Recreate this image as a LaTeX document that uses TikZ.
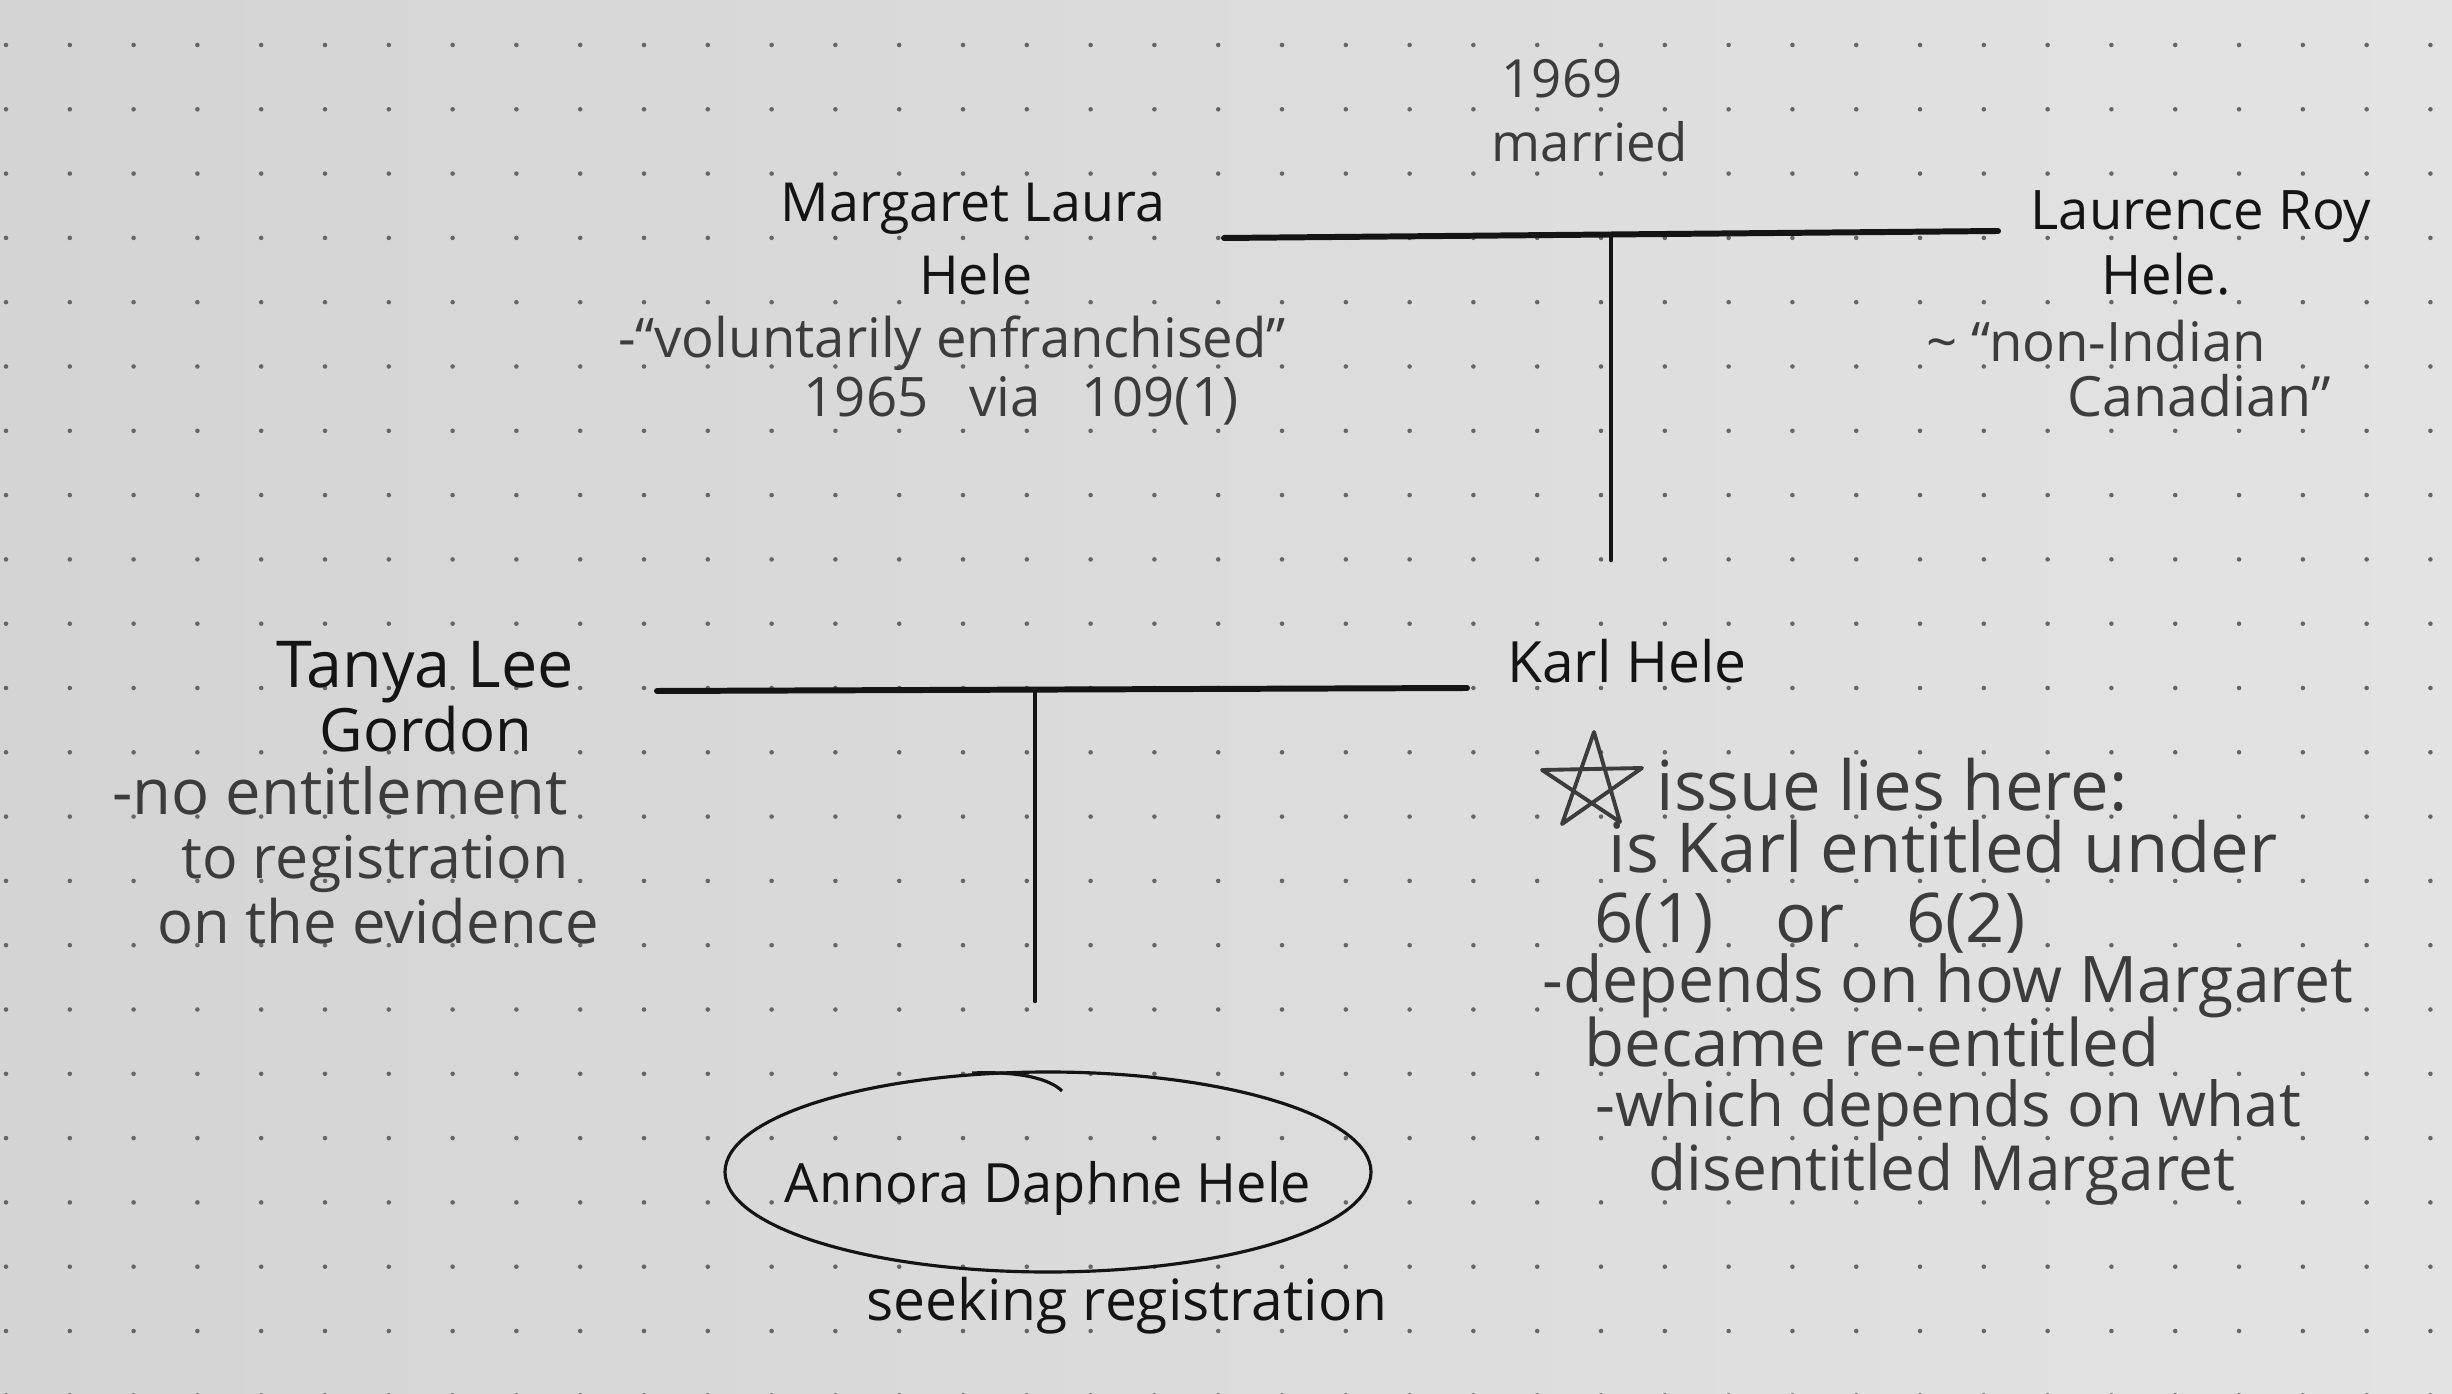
\documentclass[tikz,border=0pt]{standalone}
\usepackage{fontspec}
\setmainfont{Open Sans}
\usetikzlibrary{calc}
\definecolor{bgl}{HTML}{D4D4D4}
\definecolor{bgr}{HTML}{E3E3E3}
\definecolor{dotc}{HTML}{666666}
\definecolor{inkc}{HTML}{141414}
\definecolor{pencilc}{HTML}{3C3C3C}
\begin{document}
\begin{tikzpicture}[x=0.1mm,y=-0.1mm,
  nm/.style={text=inkc, inner sep=0pt, anchor=base, font=\fontsize{#1}{20}\selectfont},
  pn/.style={text=pencilc, inner sep=0pt, anchor=base, font=\fontsize{#1}{20}\selectfont},
  famline/.style={draw=inkc, line width=1.7pt, line cap=round},
  descline/.style={draw=inkc, line width=1.3pt, line cap=round},
  ring/.style={draw=inkc, line width=0.9pt},
  starline/.style={draw=pencilc, line width=1.1pt, line join=round}
]
% paper
\shade[left color=bgl, right color=bgr] (0,0) rectangle (2452,1394);
\useasboundingbox (0,0) rectangle (2452,1394);
\foreach \i in {0,...,38} {
  \foreach \j in {0,...,21} {
    \fill[dotc] ({6+63.8*\i},{45+64.3*\j}) circle (0.65pt);
  }
}

% marriage of Margaret and Laurence
\node[pn=15] (yr) at (1562,98) {1969};
\node[pn=15] (mar) at (1590,162) {married};
\node[nm=15.3] (margaret) at (973,222) {Margaret Laura};
\node[nm=15.3] (margaretB) at (976,295) {Hele};
\node[pn=15.5] (mnoteA) at (952,358) {-“voluntarily enfranchised”};
\node[pn=15.5] (mnoteB) at (1021,417) {1965\hspace{0.75em}via\hspace{0.75em}109(1)};
\node[nm=15.5] (laurence) at (2201,230) {Laurence Roy};
\node[nm=15.5] (laurenceB) at (2166,295) {Hele.};
\node[pn=15.5] (lnoteA) at (2096,362) {\textasciitilde\ “non-Indian};
\node[pn=15.8] (lnoteB) at (2199,417) {Canadian”};

\coordinate (mlL) at (1224,238);
\coordinate (mlR) at (1998,231);
\coordinate (mlM) at (1611,236);
\coordinate (mlB) at (1611,560);
\draw[famline] (mlL) -- (mlR);
\draw[descline] (mlM) -- (mlB);

% Karl and Tanya
\node[nm=18.4] (tanya) at (425,688) {Tanya Lee};
\node[nm=17] (tanyaB) at (426,752) {Gordon};
\node[pn=18] (tnoteA) at (340,815) {-no entitlement};
\node[pn=16.8] (tnoteB) at (375,878) {to registration};
\node[pn=17] (tnoteC) at (378,943) {on the evidence};
\node[nm=16.2] (karl) at (1627,683) {Karl Hele};

\coordinate (klL) at (657,691);
\coordinate (klR) at (1467,688);
\coordinate (klM) at (1035,690);
\coordinate (klB) at (1035,1001);
\draw[famline] (klL) -- (klR);
\draw[descline] (klM) -- (klB);

% star and issue notes
\coordinate (starc) at (1592,782);
\draw[starline] ($(starc)+(2,-50)$) -- ($(starc)+(-30,42)$) -- ($(starc)+(50,-14)$)
  -- ($(starc)+(-50,-12)$) -- ($(starc)+(28,40)$) -- cycle;
\node[pn=19.6] (kA) at (1892,810) {issue lies here:};
\node[pn=19.6] (kB) at (1943,873) {is Karl entitled under};
\node[pn=19.5] (kC) at (1810,942) {6(1)\hspace{0.9em}or\hspace{0.9em}6(2)};
\node[pn=18.3] (kD) at (1948,1002) {-depends on how Margaret};
\node[pn=18.6] (kE) at (1872,1066) {became re-entitled};
\node[pn=17.6] (kF) at (1948,1126) {-which depends on what};
\node[pn=17.7] (kG) at (1942,1190) {disentitled Margaret};

% Annora
\node[nm=15.4] (annora) at (1048,1202) {Annora Daphne Hele};
\draw[ring] (1048,1172) ellipse [x radius=32.3mm, y radius=10mm];
\draw[ring] (972,1073) .. controls (1020,1071) and (1050,1079) .. (1062,1091);
\node[nm=16.2] (seek) at (1127,1320) {seeking registration};
\end{tikzpicture}
\end{document}
